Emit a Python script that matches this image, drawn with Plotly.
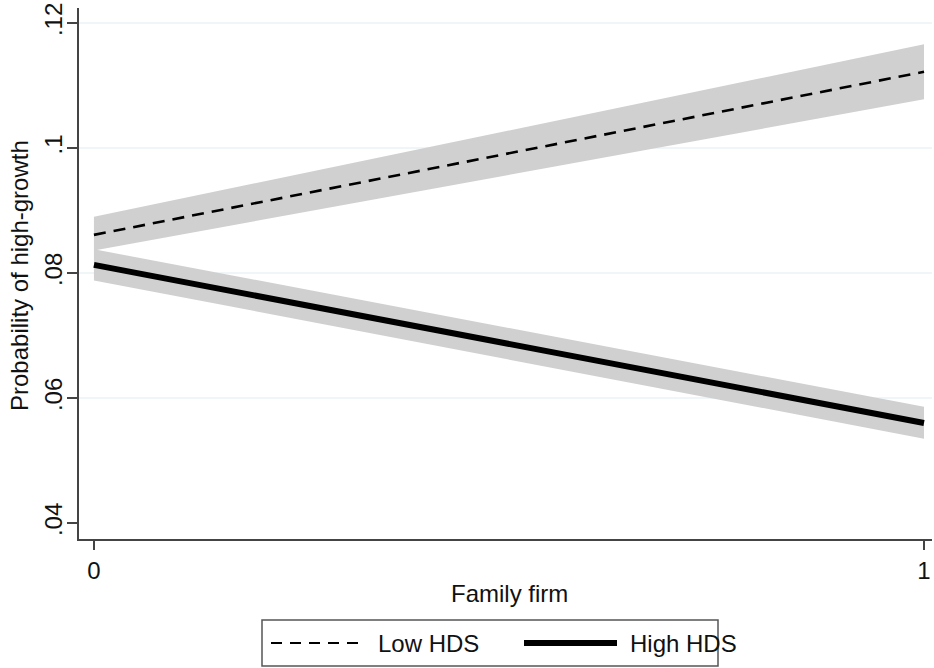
import plotly.graph_objects as go

# Data
x_vals = [0, 1]
low_hds = [0.0861, 0.1122]
low_hds_lo = [0.0836, 0.1078]
low_hds_hi = [0.0890, 0.1166]
high_hds = [0.0813, 0.0560]
high_hds_lo = [0.0788, 0.0535]
high_hds_hi = [0.0838, 0.0586]
y_ticks = [0.04, 0.06, 0.08, 0.10, 0.12]
y_tick_labels = [".04", ".06", ".08", ".1", ".12"]
grid_vals = [0.06, 0.08, 0.10, 0.12]
x_ticks = [0, 1]
x_tick_labels = ["0", "1"]
legend_names = ["Low HDS", "High HDS"]

FONT = "Liberation Sans, Arial, Helvetica, sans-serif"
BAND = "#d0d0d0"
DASH = "12px,8px"

fig = go.Figure()

def band(lo, hi):
    return go.Scatter(x=x_vals + x_vals[::-1], y=hi + lo[::-1], fill="toself",
                      fillcolor=BAND, line=dict(width=0), mode="lines",
                      hoverinfo="skip", showlegend=False)

fig.add_trace(band(low_hds_lo, low_hds_hi))
fig.add_trace(band(high_hds_lo, high_hds_hi))
fig.add_trace(go.Scatter(x=x_vals, y=low_hds, mode="lines", name=legend_names[0],
                         line=dict(color="black", width=2.6, dash=DASH), showlegend=False))
fig.add_trace(go.Scatter(x=x_vals, y=high_hds, mode="lines", name=legend_names[1],
                         line=dict(color="black", width=6), showlegend=False))

L, R, T, B = 79, 2, 8, 129
W, H = 934, 668
pw, ph = W - L - R, H - T - B

def px(xp):
    return (xp - L) / pw

def py(yp):
    return (H - B - yp) / ph

shapes = []
for g in grid_vals:
    shapes.append(dict(type="line", xref="paper", yref="y", x0=0, x1=1, y0=g, y1=g,
                       line=dict(color="#e2eef1", width=1.2), layer="below"))
# legend box
shapes.append(dict(type="rect", xref="paper", yref="paper", x0=px(262), x1=px(718),
                   y0=py(666), y1=py(620), line=dict(color="#555555", width=1.5)))
shapes.append(dict(type="line", xref="paper", yref="paper", x0=px(271), x1=px(365),
                   y0=py(643), y1=py(643), line=dict(color="black", width=2, dash="11px,8px")))
shapes.append(dict(type="line", xref="paper", yref="paper", x0=px(524), x1=px(617),
                   y0=py(643), y1=py(643), line=dict(color="black", width=6)))

annotations = [
    dict(text=legend_names[0], xref="paper", yref="paper", x=px(376), y=py(643),
         xanchor="left", yanchor="middle", showarrow=False,
         font=dict(family=FONT, size=24, color="#111")),
    dict(text=legend_names[1], xref="paper", yref="paper", x=px(628), y=py(643),
         xanchor="left", yanchor="middle", showarrow=False,
         font=dict(family=FONT, size=24, color="#111")),
    dict(text="Probability of high-growth", xref="paper", yref="paper", x=px(20), y=py(276),
         xanchor="center", yanchor="middle", textangle=-90, showarrow=False,
         font=dict(family=FONT, size=24, color="#111")),
    dict(text="Family firm", xref="paper", yref="paper", x=px(510), y=py(593),
         xanchor="center", yanchor="middle", showarrow=False,
         font=dict(family=FONT, size=24, color="#111")),
]

fig.update_layout(
    width=W, height=H,
    margin=dict(l=L, r=R, t=T, b=B),
    plot_bgcolor="white", paper_bgcolor="white",
    showlegend=False,
    shapes=shapes, annotations=annotations,
    font=dict(family=FONT, size=24, color="#111"),
)
fig.update_xaxes(range=[-0.018, 1.0096], tickvals=x_ticks, ticktext=x_tick_labels,
                 showgrid=False, zeroline=False, showline=True, linecolor="#444", linewidth=1.5,
                 ticks="outside", ticklen=9, tickcolor="#444", tickwidth=1.5,
                 tickfont=dict(family=FONT, size=24, color="#111"))
fig.update_yaxes(range=[0.03744, 0.1224], tickvals=y_ticks, ticktext=y_tick_labels,
                 showgrid=False, zeroline=False, showline=True, linecolor="#444", linewidth=1.5,
                 ticks="outside", ticklen=10, tickcolor="#444", tickwidth=1.5, tickangle=-90,
                 ticklabelstandoff=-4,
                 tickfont=dict(family=FONT, size=24, color="#111"))

fig.write_html("out.html", config={"displayModeBar": False},
               post_script="document.body.style.margin='0';")
